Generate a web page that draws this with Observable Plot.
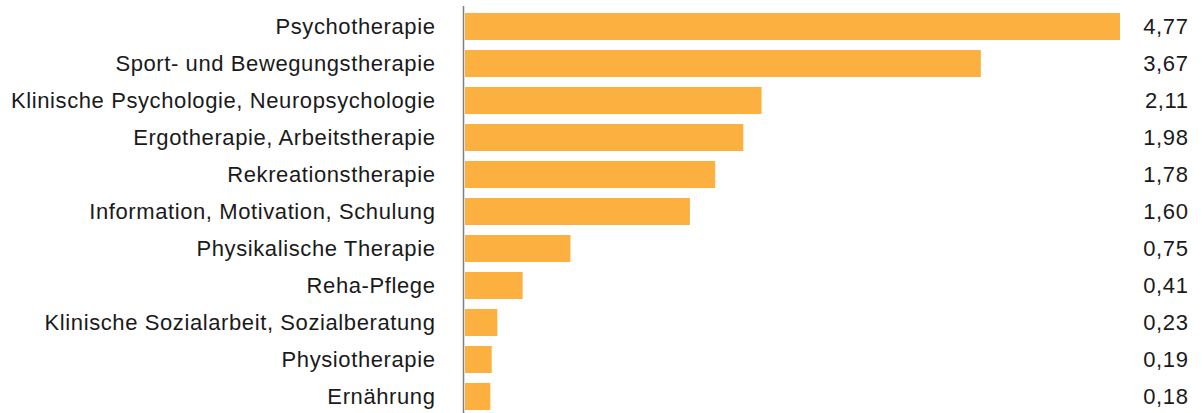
<!DOCTYPE html>
<html>
<head>
<meta charset="utf-8">
<script src="https://cdn.jsdelivr.net/npm/d3@7"></script>
<script src="https://cdn.jsdelivr.net/npm/@observablehq/plot@0.6"></script>
<style>
  html, body { margin: 0; padding: 0; background: #fff; }
  #chart svg { display: block; }
</style>
</head>
<body>
<div id="chart"></div>
<script>
const categories = [
  "Psychotherapie",
  "Sport- und Bewegungstherapie",
  "Klinische Psychologie, Neuropsychologie",
  "Ergotherapie, Arbeitstherapie",
  "Rekreationstherapie",
  "Information, Motivation, Schulung",
  "Physikalische Therapie",
  "Reha-Pflege",
  "Klinische Sozialarbeit, Sozialberatung",
  "Physiotherapie",
  "Ernährung"
];
const values = [4.77, 3.67, 2.11, 1.98, 1.78, 1.60, 0.75, 0.41, 0.23, 0.19, 0.18];

const data = categories.map((c, i) => ({category: c, value: values[i]}));
const fmt = v => v.toFixed(2).replace(".", ",");

const chart = Plot.plot({
  width: 1202,
  height: 413,
  marginLeft: 465,
  marginRight: 82,
  marginTop: 6,
  marginBottom: 0,
  style: {fontFamily: "'Liberation Sans', Arial, sans-serif", fontSize: "22px", color: "#1a1a1a", background: "#fff", letterSpacing: "0.6px"},
  x: {domain: [0, 4.66], clamp: true, axis: null},
  y: {domain: categories, range: [12, 411], paddingInner: 0.27, paddingOuter: 0, axis: null},
  marks: [
    Plot.barX(data, {x: "value", y: "category", fill: "#fbb040"}),
    Plot.ruleX([0], {stroke: "#808080", strokeWidth: 1.5, dx: -2}),
    Plot.text(data, {x: 0, y: "category", text: "category", textAnchor: "end", dx: -30, fill: "#1a1a1a", fontSize: 22}),
    Plot.text(data, {y: "category", text: d => fmt(d.value), frameAnchor: "right", textAnchor: "end", dx: 68, fill: "#1a1a1a", fontSize: 22})
  ]
});
document.getElementById("chart").appendChild(chart);
</script>
</body>
</html>
